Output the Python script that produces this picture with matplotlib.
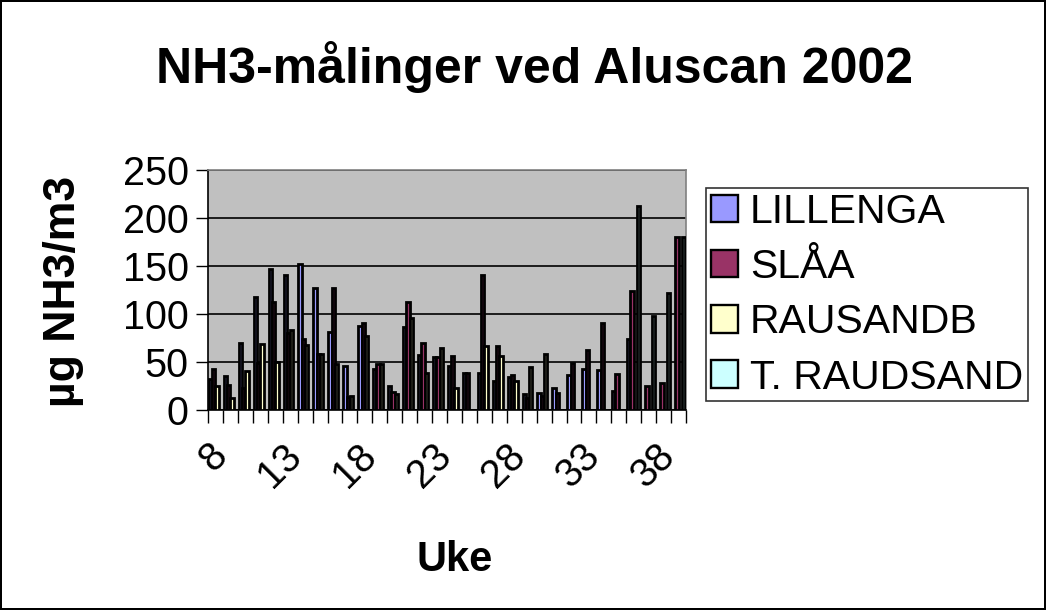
import matplotlib
matplotlib.use("Agg")
import matplotlib.pyplot as plt
import matplotlib.transforms as mtransforms
import numpy as np

plt.rcParams['font.family'] = ['Liberation Sans', 'DejaVu Sans']

weeks = list(range(8, 40))
series_names = ["LILLENGA", "SLÅA", "RAUSANDB", "T. RAUDSAND"]
lillenga = [32, 35, 70, 118, 147, 141, 152, 127, 81, 46, 87, 43, 25, 86, 57, 55,
            46, 39, 39, 30, 34, 17, 18, 23, 36, 43, 42, 20, 74, 0, 0, 0]
slaa = [43, 26, 23, 49, 113, 80, 74, 58, 127, 14, 91, 48, 19, 113, 70, 55,
        56, 39, 141, 67, 36, 12, 15, 18, 49, 62, 91, 37, 124, 25, 28, 180]
rausandb = [25, 13, 41, 69, 50, 83, 68, 58, 48, 15, 77, 48, 17, 96, 39, 65,
            23, 0, 67, 56, 30, 45, 58, 0, 0, 0, 0, 0, 0, 0, 0, 0]
t_raudsand = [0] * 28 + [213, 98, 122, 180]
colors = ["#9999FF", "#993366", "#FFFFCC", "#CCFFFF"]
yticks = [0, 50, 100, 150, 200, 250]
label_weeks = [8, 13, 18, 23, 28, 33, 38]

W, H = 1046, 610
fig = plt.figure(figsize=(W / 100, H / 100), dpi=100)
fig.patch.set_facecolor("white")
fig.patch.set_edgecolor("black")
fig.patch.set_linewidth(1.5)

ax = fig.add_axes([208 / W, 1 - 410 / H, 478 / W, 240 / H])
ax.set_facecolor("#C0C0C0")

n = len(weeks)
x = np.arange(n)
bw = 1 / 4.5
data = [lillenga, slaa, rausandb, t_raudsand]
handles = []
for k, (vals, c, name) in enumerate(zip(data, colors, series_names)):
    h = ax.bar(x + (k - 1.5) * bw, vals, width=bw, color=c, edgecolor="black",
               linewidth=2.0, label=name, zorder=3)
    handles.append(h)

ax.set_xlim(-0.5, n - 0.5)
ax.set_ylim(0, 250)
ax.set_yticks(yticks)
ax.set_yticklabels([str(v) for v in yticks], fontsize=28.5)
ax.yaxis.grid(True, color="black", linewidth=1.2, zorder=1)
ax.set_axisbelow(True)

ax.set_xticks(np.arange(n + 1) - 0.5)
ax.set_xticklabels([])
ax.tick_params(axis="x", which="major", length=9, width=1, color="black", direction="out")
ax.tick_params(axis="y", which="major", length=9, width=1, color="black", direction="out", pad=5)
lab_pos = [weeks.index(w) for w in label_weeks]
ax.set_xticks(lab_pos, minor=True)
ax.set_xticklabels([str(w) for w in label_weeks], minor=True, fontsize=28.5,
                   rotation=45, ha="right", va="top", rotation_mode="anchor")
ax.tick_params(axis="x", which="minor", length=0, pad=19)
offset = mtransforms.ScaledTranslation(-8 / 100, 0, fig.dpi_scale_trans)
for lbl in ax.get_xticklabels(minor=True):
    lbl.set_transform(lbl.get_transform() + offset)

for s in ["top", "right"]:
    ax.spines[s].set_color("#808080")
    ax.spines[s].set_linewidth(1.2)
for s in ["left", "bottom"]:
    ax.spines[s].set_color("black")
    ax.spines[s].set_linewidth(1.2)

fig.text(534 / W, 1 - 67 / H, "NH3-målinger ved Aluscan 2002", fontsize=36,
         fontweight="bold", ha="center", va="center")
fig.text(63 / W, 1 - 291 / H, "µg NH3/m3", fontsize=32, fontweight="bold",
         rotation=90, ha="center", va="center")
fig.text(455 / W, 1 - 560 / H, "Uke", fontsize=30, fontweight="bold",
         ha="center", va="center")

leg = fig.legend(handles=handles, labels=series_names, loc="upper left",
                 bbox_to_anchor=(706 / W, 1 - 188 / H), fontsize=29.5,
                 frameon=True, fancybox=False, edgecolor="black",
                 handlelength=0.65, handleheight=0.65, handletextpad=0.3,
                 labelspacing=0.42, borderpad=0.12, borderaxespad=0)
leg.get_frame().set_linewidth(1.2)
for p in leg.get_patches():
    p.set_linewidth(1.7)

fig.savefig("out.png", dpi=100)
